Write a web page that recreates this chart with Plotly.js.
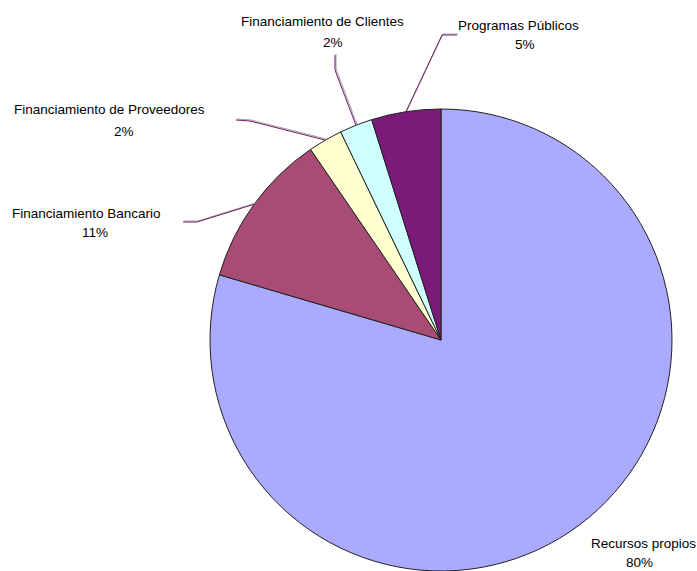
<!DOCTYPE html>
<html>
<head>
<meta charset="utf-8">
<script src="https://cdn.plot.ly/plotly-3.0.1.min.js"></script>
<style>html,body{margin:0;padding:0;background:#fff;}#chart{width:697px;height:571px;}</style>
</head>
<body>
<div id="chart"></div>
<script>
// Data
const labels = ['Recursos propios', 'Financiamiento Bancario', 'Financiamiento de Proveedores', 'Financiamiento de Clientes', 'Programas Públicos'];
const values = [79.55, 10.9, 2.4, 2.3, 4.85];
const colors = ['#AAAAFF', '#A84B75', '#FFFFD0', '#D0FFFF', '#7B1A78'];

// Layout geometry (pixels)
const W = 697, H = 571;
const CX = 441, CY = 340, R = 231;
// label centres [name, percent] and leader-line elbows [elbow, end] (null = no leader)
const labelPos = [
  [[643, 543], [639, 562]],
  [[86, 213], [95, 232]],
  [[110, 109], [124, 131]],
  [[322, 21], [333, 42]],
  [[518, 25], [525, 45]]
];
const leaderPos = [
  null,
  [[197, 222], [183, 222]],
  [[250, 121], [236, 120]],
  [[335, 70], [335, 55]],
  [[442, 35], [457, 35]]
];

const px = x => x / W;
const py = y => 1 - y / H;
const total = values.reduce((a, b) => a + b, 0);

const annotations = [];
const shapes = [];
let cum = 0;
values.forEach((v, i) => {
  const pct = Math.round(v / total * 100) + '%';
  const font = {family: 'Liberation Sans, Arial, sans-serif', size: 13.5, color: '#000'};
  annotations.push({xref: 'paper', yref: 'paper', x: px(labelPos[i][0][0]), y: py(labelPos[i][0][1]),
    text: labels[i], showarrow: false, xanchor: 'center', yanchor: 'middle', font: font});
  annotations.push({xref: 'paper', yref: 'paper', x: px(labelPos[i][1][0]), y: py(labelPos[i][1][1]),
    text: pct, showarrow: false, xanchor: 'center', yanchor: 'middle', font: font});
  const mid = (cum + v / 2) / total * 2 * Math.PI; // clockwise from 12 o'clock
  cum += v;
  if (leaderPos[i]) {
    const sx = CX + R * Math.sin(mid), sy = CY - R * Math.cos(mid);
    const e = leaderPos[i][0], f = leaderPos[i][1];
    const path = (dx, dy) => 'M' + px(sx + dx) + ',' + py(sy + dy) + ' L' + px(e[0] + dx) + ',' + py(e[1] + dy) + ' L' + px(f[0] + dx) + ',' + py(f[1] + dy);
    shapes.push({type: 'path', xref: 'paper', yref: 'paper', path: path(1, -1), line: {color: '#A0A0A0', width: 1}});
    shapes.push({type: 'path', xref: 'paper', yref: 'paper', path: path(0, 0), line: {color: '#6E1A6E', width: 1}});
  }
});

const trace = {
  type: 'pie',
  labels: labels,
  values: values,
  sort: false,
  direction: 'clockwise',
  rotation: 0,
  textinfo: 'none',
  hoverinfo: 'label+percent',
  marker: {colors: colors, line: {color: '#222', width: 1}},
  domain: {x: [px(CX - R), px(CX + R)], y: [py(CY + R), py(CY - R)]},
  showlegend: false
};

const layout = {
  width: W, height: H,
  margin: {l: 0, r: 0, t: 0, b: 0},
  paper_bgcolor: '#fff',
  showlegend: false,
  annotations: annotations,
  shapes: shapes
};

Plotly.newPlot('chart', [trace], layout, {displayModeBar: false, staticPlot: true});
</script>
</body>
</html>
